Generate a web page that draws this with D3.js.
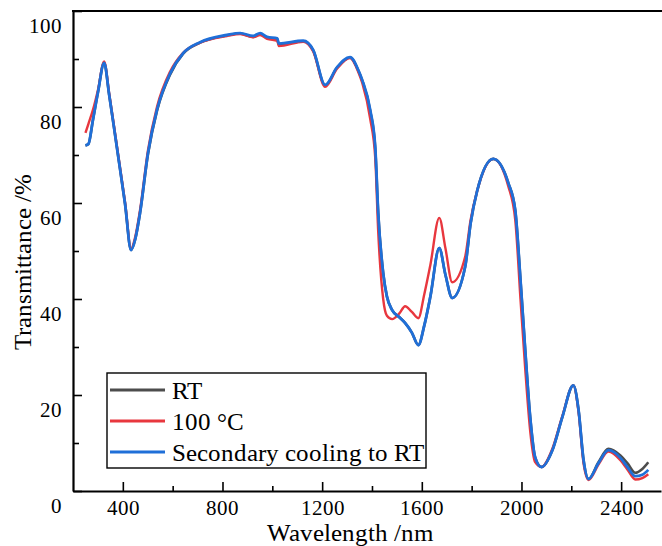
<!DOCTYPE html>
<html>
<head>
<meta charset="utf-8">
<script src="https://cdn.jsdelivr.net/npm/d3@7"></script>
<style>
  @font-face {
    font-family: "ChartSerif";
    src: local("Liberation Serif"), local("LiberationSerif"), local("Liberation Serif Regular"), local("LiberationSerif-Regular");
  }
  body { margin: 0; background: #fff; }
  #chart text { font-family: "ChartSerif", "Liberation Serif", "Times New Roman", serif !important; }
</style>
</head>
<body>
<svg id="chart" width="662" height="546"></svg>
<script>
// wavelength grid (nm) shared by the three spectra
const wavelengths = [250, 262, 280, 300, 325, 345, 361, 389, 409, 433, 450, 469, 501, 537, 590, 642, 710, 818, 871, 923,
  951, 979, 1020, 1026, 1124, 1164, 1212, 1260, 1312, 1345, 1361, 1393, 1413, 1425, 1445, 1460, 1481, 1510, 1533, 1560,
  1586, 1610, 1634, 1670, 1695, 1722, 1774, 1796, 1822, 1887, 1947, 1975, 1996, 2015, 2035, 2055, 2080, 2124, 2164, 2208,
  2229, 2249, 2269, 2309, 2349, 2397, 2425, 2457, 2485, 2509];

const rtValues = [72.0, 72.3, 77.3, 83.0, 89.2, 82.6, 77.0, 67.0, 59.8, 50.2, 52.5, 57.9, 70.2, 79.2, 86.8, 91.1, 93.4, 94.9, 95.3, 94.6,
  95.2, 94.4, 94.1, 93.0, 93.7, 91.8, 84.5, 88.2, 90.3, 87.6, 85.5, 79.2, 71.5, 57.9, 45.4, 40.5, 37.7, 36.2, 35.0, 33.0,
  30.4, 34.5, 40.4, 50.6, 45.0, 40.2, 46.7, 55.8, 62.5, 69.2, 64.2, 58.5, 44.0, 29.4, 15.4, 7.0, 5.0, 8.5, 15.4, 22.0,
  16.9, 6.5, 2.5, 6.0, 8.8, 7.4, 5.8, 3.8, 4.6, 6.0];

const hotValues = [74.6, 76.5, 79.4, 83.5, 89.5, 82.9, 77.3, 67.3, 60.1, 50.5, 53.0, 58.5, 71.0, 80.0, 87.4, 91.3, 93.4, 94.8, 95.2, 94.5,
  95.0, 94.2, 93.8, 92.7, 93.6, 91.6, 84.2, 88.0, 90.2, 87.3, 85.0, 77.5, 69.5, 54.0, 40.0, 36.5, 35.8, 37.0, 38.5, 37.3,
  36.0, 41.0, 47.0, 56.9, 50.5, 43.5, 48.8, 56.5, 62.5, 69.2, 63.5, 56.5, 40.0, 25.5, 12.5, 6.0, 5.0, 8.8, 15.6, 22.0,
  16.5, 5.8, 2.3, 5.5, 8.2, 6.4, 4.5, 2.4, 2.7, 3.5];

const coolValues = [72.0, 72.3, 77.3, 83.0, 89.2, 82.6, 77.0, 67.0, 59.8, 50.2, 52.5, 57.9, 70.4, 79.4, 87.0, 91.2, 93.5, 95.0, 95.4, 94.8,
  95.4, 94.6, 94.3, 93.2, 93.8, 91.9, 84.6, 88.3, 90.4, 87.7, 85.6, 79.4, 71.7, 57.9, 45.4, 40.5, 37.7, 36.2, 35.0, 33.0,
  30.4, 34.5, 40.4, 50.6, 45.0, 40.2, 46.7, 55.8, 62.5, 69.2, 64.2, 58.5, 44.0, 29.4, 15.4, 7.0, 5.0, 8.5, 15.4, 22.0,
  16.9, 6.5, 2.5, 5.8, 8.5, 6.9, 5.0, 3.1, 3.4, 4.4];

const seriesNames = ['RT', '100 \u00b0C', 'Secondary cooling to RT'];
const seriesColors = ['#4d4d4d', '#e8373e', '#1f6fd8'];
const xMajorTicks = [400, 800, 1200, 1600, 2000, 2400];
const xMinorTicks = [600, 1000, 1400, 1800, 2200];
const yMajorTicks = [0, 20, 40, 60, 80, 100];
const yMinorTicks = [10, 30, 50, 70, 90];

const svg = d3.select('#chart');
const W = 662;
const margin = { top: 11, left: 73, bottom: 491 };

const x = d3.scaleLinear().domain([200, 2560]).range([margin.left, 661]);
const y = d3.scaleLinear().domain([0, 100]).range([margin.bottom, margin.top]);

// spectra
const line = d3.line()
  .x((d) => x(d[0]))
  .y((d) => y(d[1]))
  .curve(d3.curveMonotoneX);

const allValues = [rtValues, hotValues, coolValues];
const widths = [2.6, 2.4, 2.8];
allValues.forEach((vals, i) => {
  svg.append('path')
    .datum(wavelengths.map((w, j) => [w, vals[j]]))
    .attr('fill', 'none')
    .attr('stroke', seriesColors[i])
    .attr('stroke-width', widths[i])
    .attr('stroke-linejoin', 'round')
    .attr('d', line);
});

// axes
const fmt = d3.format('d');
const xAxis = svg.append('g')
  .attr('transform', `translate(0,${margin.bottom})`)
  .call(d3.axisBottom(x).tickValues(xMajorTicks).tickFormat(fmt).tickSizeInner(-9).tickSizeOuter(0).tickPadding(12));
svg.append('g')
  .attr('transform', `translate(0,${margin.bottom})`)
  .call(d3.axisBottom(x).tickValues(xMinorTicks).tickSizeInner(-5).tickSizeOuter(0).tickFormat(''))
  .call((g) => g.select('.domain').remove());

const yAxis = svg.append('g')
  .attr('transform', `translate(${margin.left},0)`)
  .call(d3.axisLeft(y).tickValues(yMajorTicks).tickFormat(fmt).tickSizeInner(-9).tickSizeOuter(0).tickPadding(11));
svg.append('g')
  .attr('transform', `translate(${margin.left},0)`)
  .call(d3.axisLeft(y).tickValues(yMinorTicks).tickSizeInner(-6).tickSizeOuter(0).tickFormat(''))
  .call((g) => g.select('.domain').remove());

svg.selectAll('g').attr('font-family', null);
svg.selectAll('.domain').attr('stroke', '#000').attr('stroke-width', 2.2);
svg.selectAll('.tick line').attr('stroke', '#000').attr('stroke-width', 1.6);
svg.selectAll('.tick text')
  .attr('fill', '#000')
  .style('font-size', '21px');
xAxis.selectAll('.tick text').attr('dy', '0.55em');
yAxis.selectAll('.tick text').attr('dy', '1.0em');

// top frame line
svg.append('line')
  .attr('x1', margin.left - 1).attr('x2', W)
  .attr('y1', margin.top).attr('y2', margin.top)
  .attr('stroke', '#000').attr('stroke-width', 2.2);

// axis titles
svg.append('text')
  .attr('x', 350).attr('y', 541)
  .attr('text-anchor', 'middle')
  .style('font-size', '25px')
  .text('Wavelength /nm');

svg.append('text')
  .attr('transform', 'translate(31,262) rotate(-90)')
  .attr('text-anchor', 'middle')
  .style('font-size', '25px')
  .text('Transmittance /%');

// legend
const legend = svg.append('g');
legend.append('rect')
  .attr('x', 107).attr('y', 373).attr('width', 319).attr('height', 95)
  .attr('fill', '#fff').attr('stroke', '#000').attr('stroke-width', 1.4);
seriesNames.forEach((name, i) => {
  const ly = 390 + i * 31;
  legend.append('line')
    .attr('x1', 110).attr('x2', 165).attr('y1', ly).attr('y2', ly)
    .attr('stroke', seriesColors[i]).attr('stroke-width', 3);
  legend.append('text')
    .attr('x', 172).attr('y', ly + 9)
    .style('font-size', '25px')
    .text(name);
});
</script>
</body>
</html>
